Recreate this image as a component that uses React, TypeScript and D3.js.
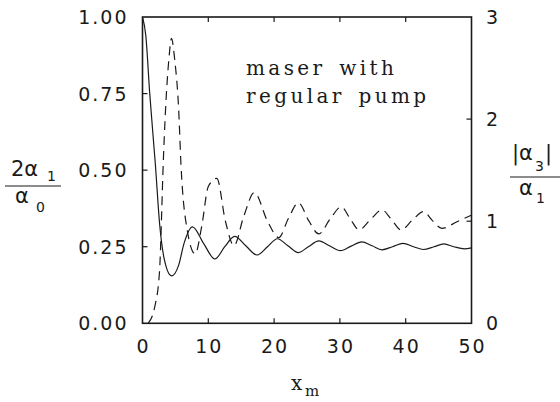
import React, { useRef, useEffect } from "react";
import * as d3 from "d3";

// 2*alpha1/alpha0 (left axis)
const solidX = [0, 0.5, 1.1, 1.95, 2.62, 3.3, 4.4, 5.5, 6.3, 7.6, 9.3, 11.0, 12.5, 14.0, 15.7, 17.4, 19.0, 20.5, 22.1, 23.7, 25.2, 26.8, 28.4, 30.1, 31.7, 33.3, 34.9, 36.4, 38.0, 39.6, 41.2, 42.7, 44.3, 45.8, 47.3, 48.9, 50];
const solidVal = [1.0, 0.94, 0.75, 0.52, 0.32, 0.21, 0.155, 0.19, 0.26, 0.315, 0.26, 0.21, 0.25, 0.284, 0.253, 0.223, 0.25, 0.276, 0.253, 0.231, 0.25, 0.269, 0.253, 0.237, 0.252, 0.266, 0.253, 0.24, 0.25, 0.261, 0.25, 0.241, 0.25, 0.259, 0.25, 0.243, 0.246];

// |alpha3|/alpha1 (right axis), dashed curve
const dashX = [0.85, 1.86, 2.6, 2.85, 3.1, 3.5, 4.0, 4.4, 4.9, 5.5, 5.85, 6.7, 8.0, 9.0, 10.0, 11.3, 12.6, 13.9, 15.4, 17.0, 19.0, 20.7, 22.2, 23.7, 25.3, 26.8, 28.5, 30.2, 31.6, 32.9, 34.7, 36.4, 37.8, 39.3, 41.0, 42.7, 44.0, 45.5, 47.8, 50];
const dashVal = [0, 0.16, 0.52, 0.95, 1.47, 2.09, 2.58, 2.79, 2.58, 2.09, 1.55, 0.95, 0.68, 0.95, 1.34, 1.42, 1.0, 0.76, 1.05, 1.28, 1.0, 0.84, 1.03, 1.18, 1.0, 0.875, 1.02, 1.14, 1.02, 0.915, 1.02, 1.11, 1.02, 0.915, 1.01, 1.095, 1.01, 0.93, 0.995, 1.06];

const xTicks = [0, 10, 20, 30, 40, 50];
const leftTicks = [0, 0.25, 0.5, 0.75, 1];
const rightTicks = [0, 1, 2, 3];

const W = 560;
const H = 402;

const App = () => {
  const ref = useRef<SVGSVGElement>(null);

  useEffect(() => {
    const svg = d3.select(ref.current);
    svg.selectAll("*").remove();

    const m = { left: 142.5, right: 471.5, top: 17, bottom: 323.3 };
    const x = d3.scaleLinear().domain([0, 50]).range([m.left, m.right]);
    const yL = d3.scaleLinear().domain([0, 1]).range([m.bottom, m.top]);
    const yR = d3.scaleLinear().domain([0, 3]).range([m.bottom, m.top]);

    const ink = "#1a1a1a";
    const tickFont = "'DejaVu Sans', sans-serif";

    svg.append("clipPath").attr("id", "plotclip")
      .append("rect")
      .attr("x", m.left).attr("y", m.top)
      .attr("width", m.right - m.left).attr("height", m.bottom - m.top);

    const line = d3.line<[number, number]>().curve(d3.curveMonotoneX);

    // solid curve
    svg.append("path")
      .attr("d", line.x((d) => x(d[0])).y((d) => yL(d[1]))(solidX.map((v, i) => [v, solidVal[i]])))
      .attr("fill", "none")
      .attr("stroke", ink)
      .attr("stroke-width", 1.2)
      .attr("clip-path", "url(#plotclip)");

    // dashed curve
    svg.append("path")
      .attr("d", line.x((d) => x(d[0])).y((d) => yR(d[1]))(dashX.map((v, i) => [v, dashVal[i]])))
      .attr("fill", "none")
      .attr("stroke", ink)
      .attr("stroke-width", 1.2)
      .attr("stroke-dasharray", "9,6")
      .attr("clip-path", "url(#plotclip)");

    // frame
    svg.append("rect")
      .attr("x", m.left).attr("y", m.top)
      .attr("width", m.right - m.left).attr("height", m.bottom - m.top)
      .attr("fill", "none").attr("stroke", ink).attr("stroke-width", 1.6);

    const tl = 5;
    // x ticks, bottom and top, inward
    xTicks.slice(1, -1).forEach((t) => {
      svg.append("line").attr("x1", x(t)).attr("x2", x(t))
        .attr("y1", m.bottom).attr("y2", m.bottom - tl)
        .attr("stroke", ink).attr("stroke-width", 1.2);
      svg.append("line").attr("x1", x(t)).attr("x2", x(t))
        .attr("y1", m.top).attr("y2", m.top + tl)
        .attr("stroke", ink).attr("stroke-width", 1.2);
    });
    leftTicks.slice(1, -1).forEach((t) => {
      svg.append("line").attr("x1", m.left).attr("x2", m.left + tl)
        .attr("y1", yL(t)).attr("y2", yL(t))
        .attr("stroke", ink).attr("stroke-width", 1.2);
    });
    rightTicks.slice(1, -1).forEach((t) => {
      svg.append("line").attr("x1", m.right).attr("x2", m.right - tl)
        .attr("y1", yR(t)).attr("y2", yR(t))
        .attr("stroke", ink).attr("stroke-width", 1.2);
    });

    // tick labels
    svg.append("g").selectAll("text").data(xTicks).join("text")
      .attr("x", (d) => x(d) + 1)
      .attr("y", 353)
      .attr("text-anchor", "middle")
      .attr("font-family", tickFont).attr("font-size", 19)
      .attr("letter-spacing", 2).attr("fill", ink)
      .text((d) => d);

    svg.append("g").selectAll("text").data(leftTicks).join("text")
      .attr("x", 128.5)
      .attr("y", (d) => yL(d) + 7)
      .attr("text-anchor", "end")
      .attr("font-family", tickFont).attr("font-size", 19)
      .attr("letter-spacing", 2).attr("fill", ink)
      .text((d) => d3.format(".2f")(d));

    svg.append("g").selectAll("text").data(rightTicks).join("text")
      .attr("x", 486)
      .attr("y", (d) => yR(d) + 7)
      .attr("text-anchor", "start")
      .attr("font-family", tickFont).attr("font-size", 19)
      .attr("fill", ink)
      .text((d) => d);

    // annotation
    const note = svg.append("text")
      .attr("font-family", "'DejaVu Serif', serif").attr("font-size", 20)
      .attr("letter-spacing", 3.4).attr("word-spacing", 4).attr("fill", ink);
    note.append("tspan").attr("x", 246).attr("y", 75).text("maser with");
    note.append("tspan").attr("x", 246).attr("y", 103).text("regular pump");

    const lab = (tx: number, ty: number, s: string, size: number) =>
      svg.append("text").attr("x", tx).attr("y", ty)
        .attr("font-family", tickFont).attr("font-size", size)
        .attr("fill", ink).text(s);

    // left axis label: 2 alpha_1 / alpha_0
    lab(11, 176, "2α", 21);
    lab(47, 181, "1", 14);
    svg.append("line").attr("x1", 5).attr("x2", 61).attr("y1", 186).attr("y2", 186)
      .attr("stroke", ink).attr("stroke-width", 1);
    lab(15, 203, "α", 21);
    lab(36, 212, "0", 14);

    // right axis label: |alpha_3| / alpha_1
    lab(512, 160, "|α", 21);
    lab(535, 171, "3", 14);
    lab(545, 160, "|", 21);
    svg.append("line").attr("x1", 510).attr("x2", 560).attr("y1", 177).attr("y2", 177)
      .attr("stroke", ink).attr("stroke-width", 1);
    lab(519, 195, "α", 21);
    lab(536, 203, "1", 14);

    // x axis label
    svg.append("text").attr("x", 291).attr("y", 390)
      .attr("font-family", "'DejaVu Serif', serif").attr("font-size", 20)
      .attr("fill", ink).text("x");
    svg.append("text").attr("x", 305).attr("y", 396)
      .attr("font-family", "'DejaVu Serif', serif").attr("font-size", 15)
      .attr("fill", ink).text("m");
  }, []);

  return (
    <svg
      ref={ref}
      width={W}
      height={H}
      style={{ position: "absolute", left: 0, top: 0, background: "white" }}
    ></svg>
  );
};

export default App;
